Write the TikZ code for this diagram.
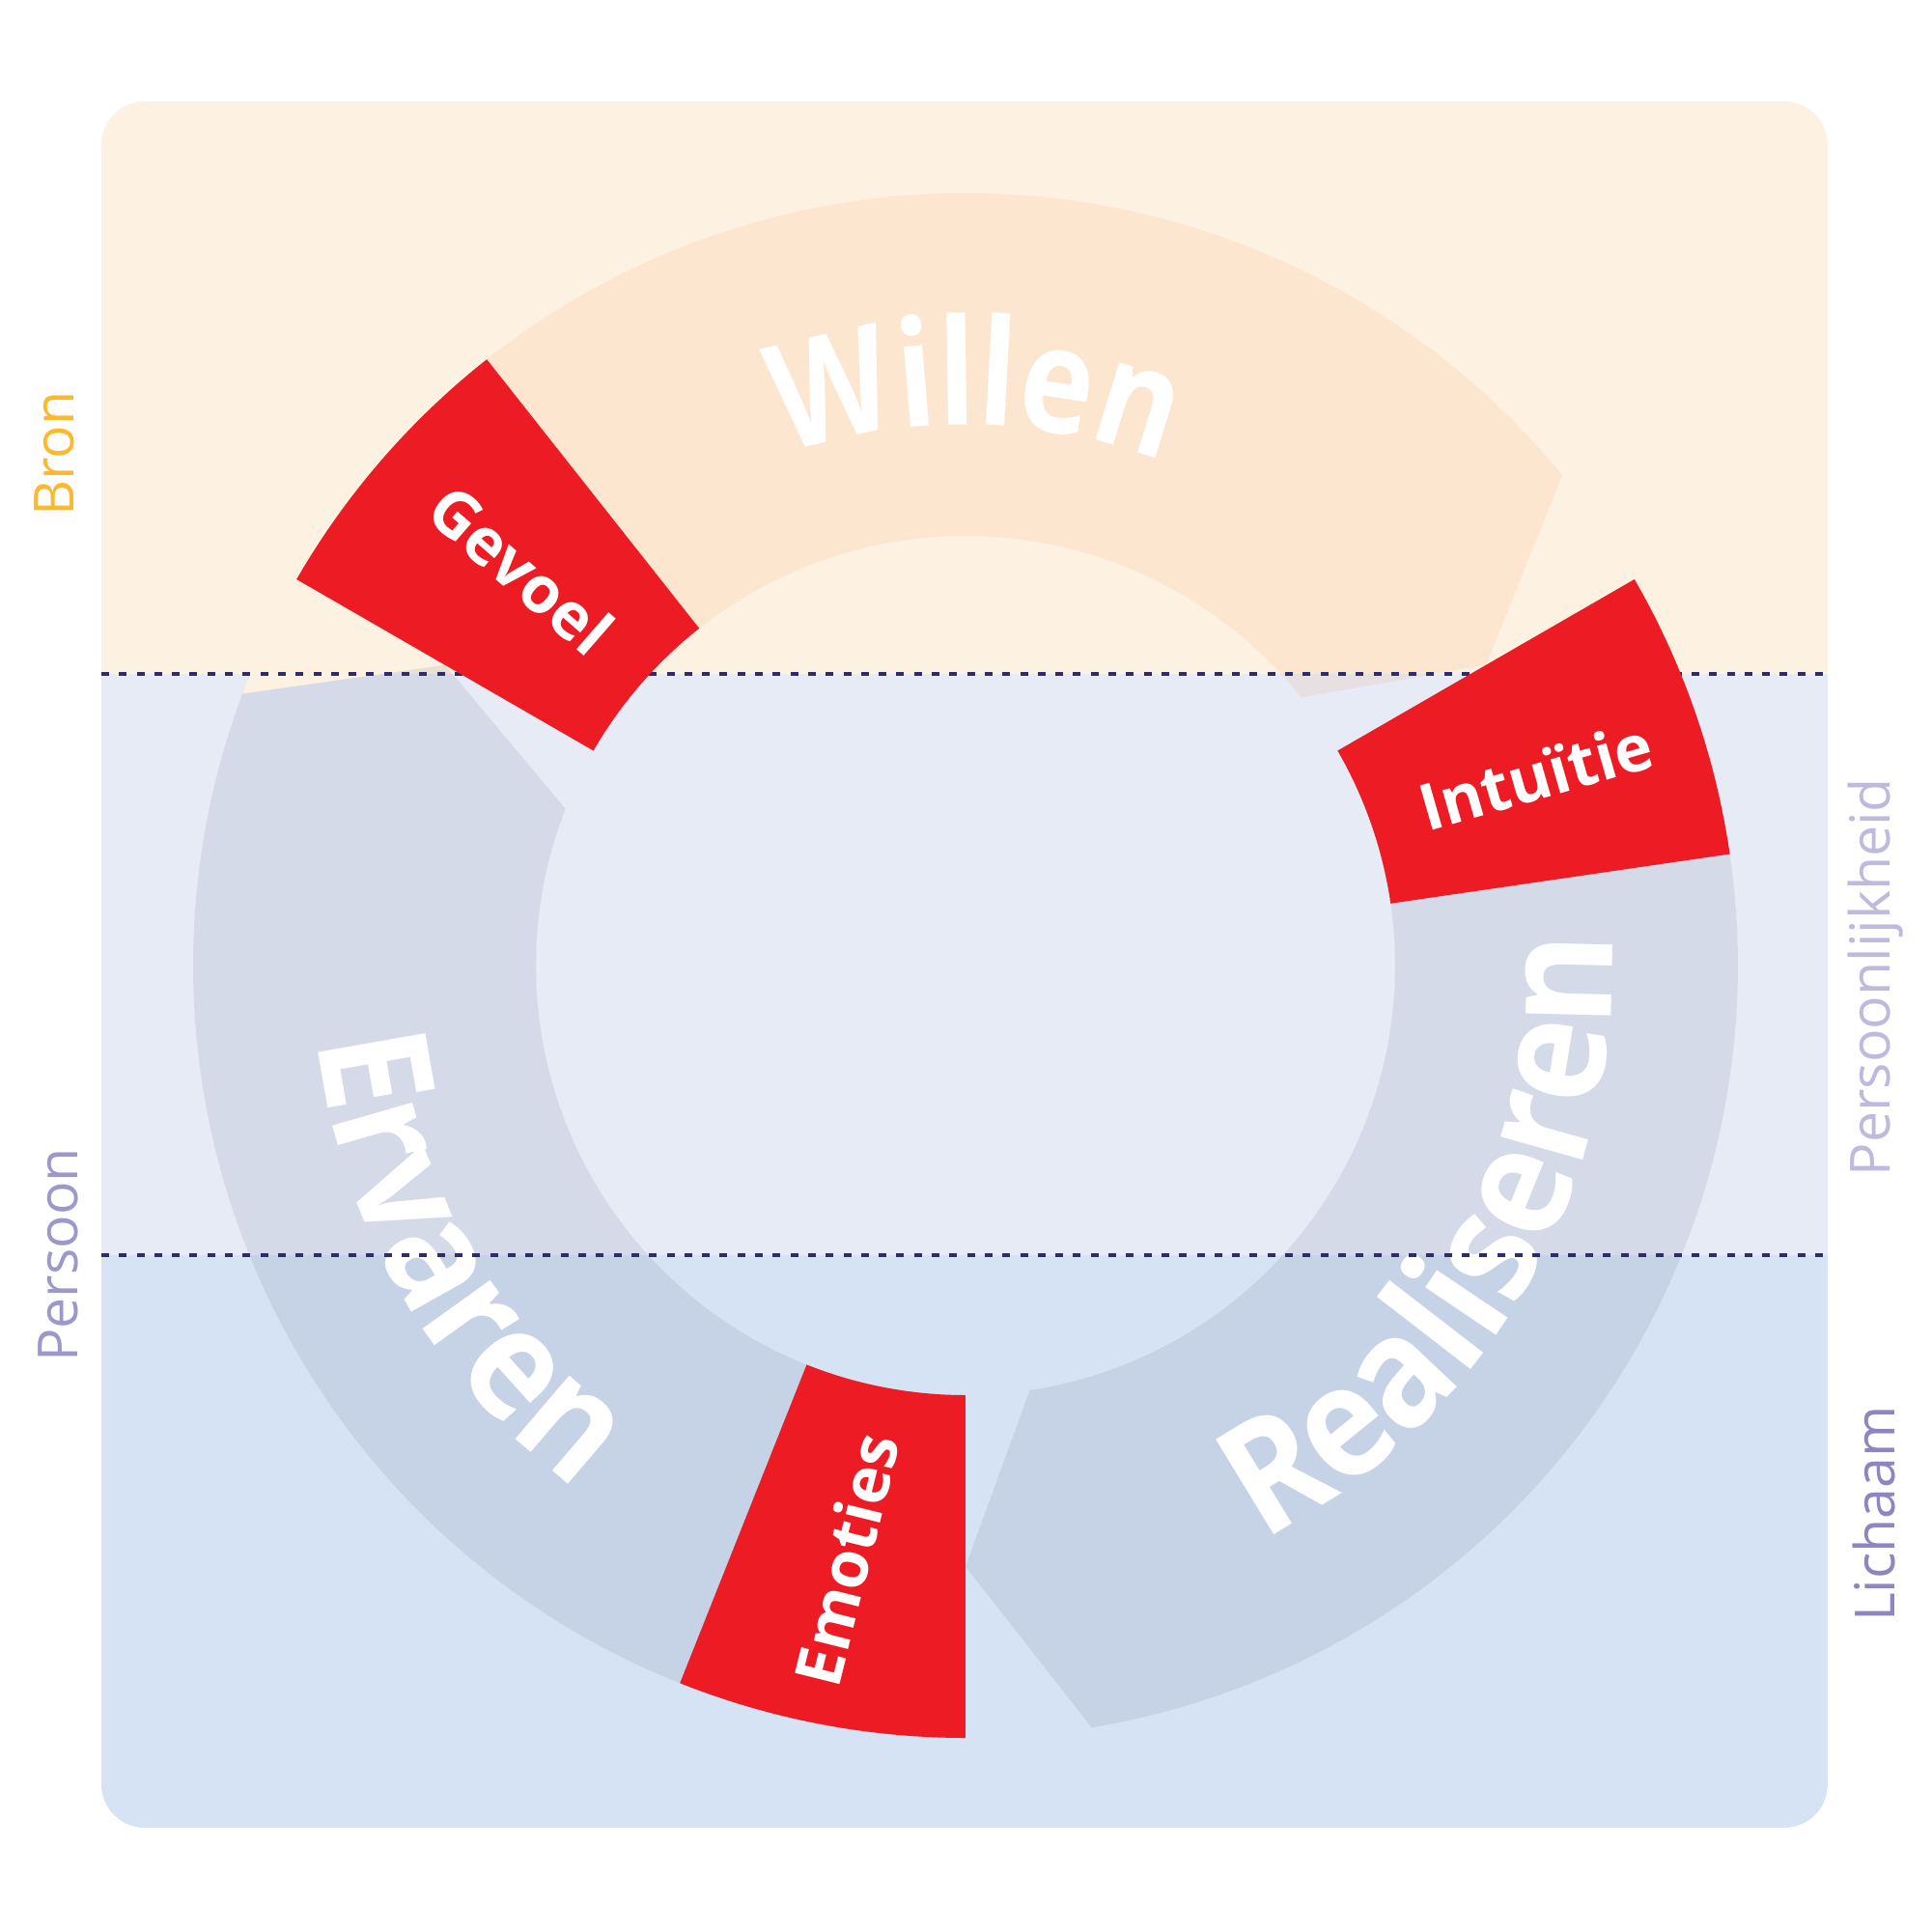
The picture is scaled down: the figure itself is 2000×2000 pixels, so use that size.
\documentclass[tikz,border=0pt]{standalone}
\usepackage{fontspec}
\setmainfont{Open Sans}
\newfontfamily\ringfont[FakeStretch=0.9]{Open Sans}
\newfontfamily\willenfont[FakeStretch=0.84]{Open Sans}
\newfontfamily\sidefont{Open Sans}
\usetikzlibrary{decorations.text}

\definecolor{bronbg}{RGB}{253,241,226}
\definecolor{persbg}{RGB}{230,235,246}
\definecolor{lichbg}{RGB}{214,227,244}
\definecolor{blockred}{RGB}{237,28,36}
\definecolor{dashblue}{RGB}{48,44,104}
\definecolor{willentint}{RGB}{252,104,0}
\definecolor{ringtint}{RGB}{15,20,70}
\definecolor{broncol}{RGB}{251,185,50}
\definecolor{perscol}{RGB}{157,152,204}
\definecolor{pliccol}{RGB}{190,186,221}
\definecolor{lichcol}{RGB}{142,134,192}

\tikzset{
willen arrow/.style={fill=willentint, fill opacity=0.08}, % see-through peach arrow
ring arrow/.style={fill=ringtint, fill opacity=0.08}, % see-through blue-grey arrows
block/.style={fill=blockred},
level line/.style={draw=dashblue, line width=0.36mm, dash pattern=on 0.8mm off 1.03mm},
blocklabel/.style={text=white, font=\bfseries\fontsize{19}{20}\selectfont, anchor=base, inner sep=0pt},
sidelabel/.style={rotate=90, font=\sidefont\fontsize{16.3}{17}\selectfont, inner sep=0pt},
}

\begin{document}
\begin{tikzpicture}[x=0.1mm, y=0.1mm]

\useasboundingbox (-1000,-1000) rectangle (1000,1000);

% the three bands
\begin{scope}
\clip[rounded corners=4.5mm] (-895,-893) rectangle (893,895);
\fill[bronbg] (-895,302) rectangle (893,895);
\fill[persbg] (-895,-300) rectangle (893,302);
\fill[lichbg] (-895,-893) rectangle (893,-300);
\end{scope}
\fill[bronbg] (159.4:800) -- (-604,302) -- (-741,302) -- cycle;

% ring arrows
\fill[willen arrow] (150:800) arc[start angle=150, end angle=39.4, radius=800] -- (30:622.5) -- (38.6:445) arc[start angle=38.6, end angle=150, radius=445] -- cycle;
\fill[ring arrow] (30:800) arc[start angle=30, end angle=-80.6, radius=800] -- (-90:622.5) -- (-81.4:445) arc[start angle=-81.4, end angle=30, radius=445] -- cycle;
\fill[ring arrow] (270:800) arc[start angle=270, end angle=159.4, radius=800] -- (150:622.5) -- (158.6:445) arc[start angle=158.6, end angle=270, radius=445] -- cycle;

\path[decorate, decoration={text along path, text align=center, text color=white,
  text={|\willenfont\bfseries\fontsize{43.5}{44}\selectfont|Willen}}]
  (134:560) arc[start angle=134, end angle=44, radius=560];
\path[decorate, decoration={text along path, text align=center, text color=white,
  text={|\ringfont\bfseries\fontsize{45}{45}\selectfont|Ervaren}}]
  (170:676) arc[start angle=170, end angle=250, radius=676];
\path[decorate, decoration={text along path, text align=center, text color=white,
  text={|\ringfont\bfseries\fontsize{46}{46}\selectfont|Realiseren}}]
  (-70:670) arc[start angle=-70, end angle=10, radius=670];

\draw[level line] (-895,302) -- (893,302);
\draw[level line] (-895,-300) -- (893,-300);

% red blocks
\foreach \s/\e in {8.3/30, 128.3/150, 248.3/270}
  \fill[block] (\s:445) -- (\s:800) arc[start angle=\s, end angle=\e, radius=800] -- (\e:445) arc[start angle=\e, end angle=\s, radius=445] -- cycle;

\node[blocklabel, rotate=-41] (gevoel) at (140.6:617) {Gevoel};
\node[blocklabel, rotate=16] (intuitie) at (16.1:622) {Intuïtie};
\node[blocklabel, rotate=76] (emoties) at (260.9:629) {Emoties};

\node[sidelabel, text=broncol] (bron) at (-944,530) {Bron};
\node[sidelabel, text=perscol] (persoon) at (-940,-300) {Persoon};
\node[sidelabel, text=pliccol] (persoonlijkheid) at (943,-12) {Persoonlijkheid};
\node[sidelabel, text=lichcol] (lichaam) at (941,-568) {Lichaam};

\end{tikzpicture}
\end{document}
